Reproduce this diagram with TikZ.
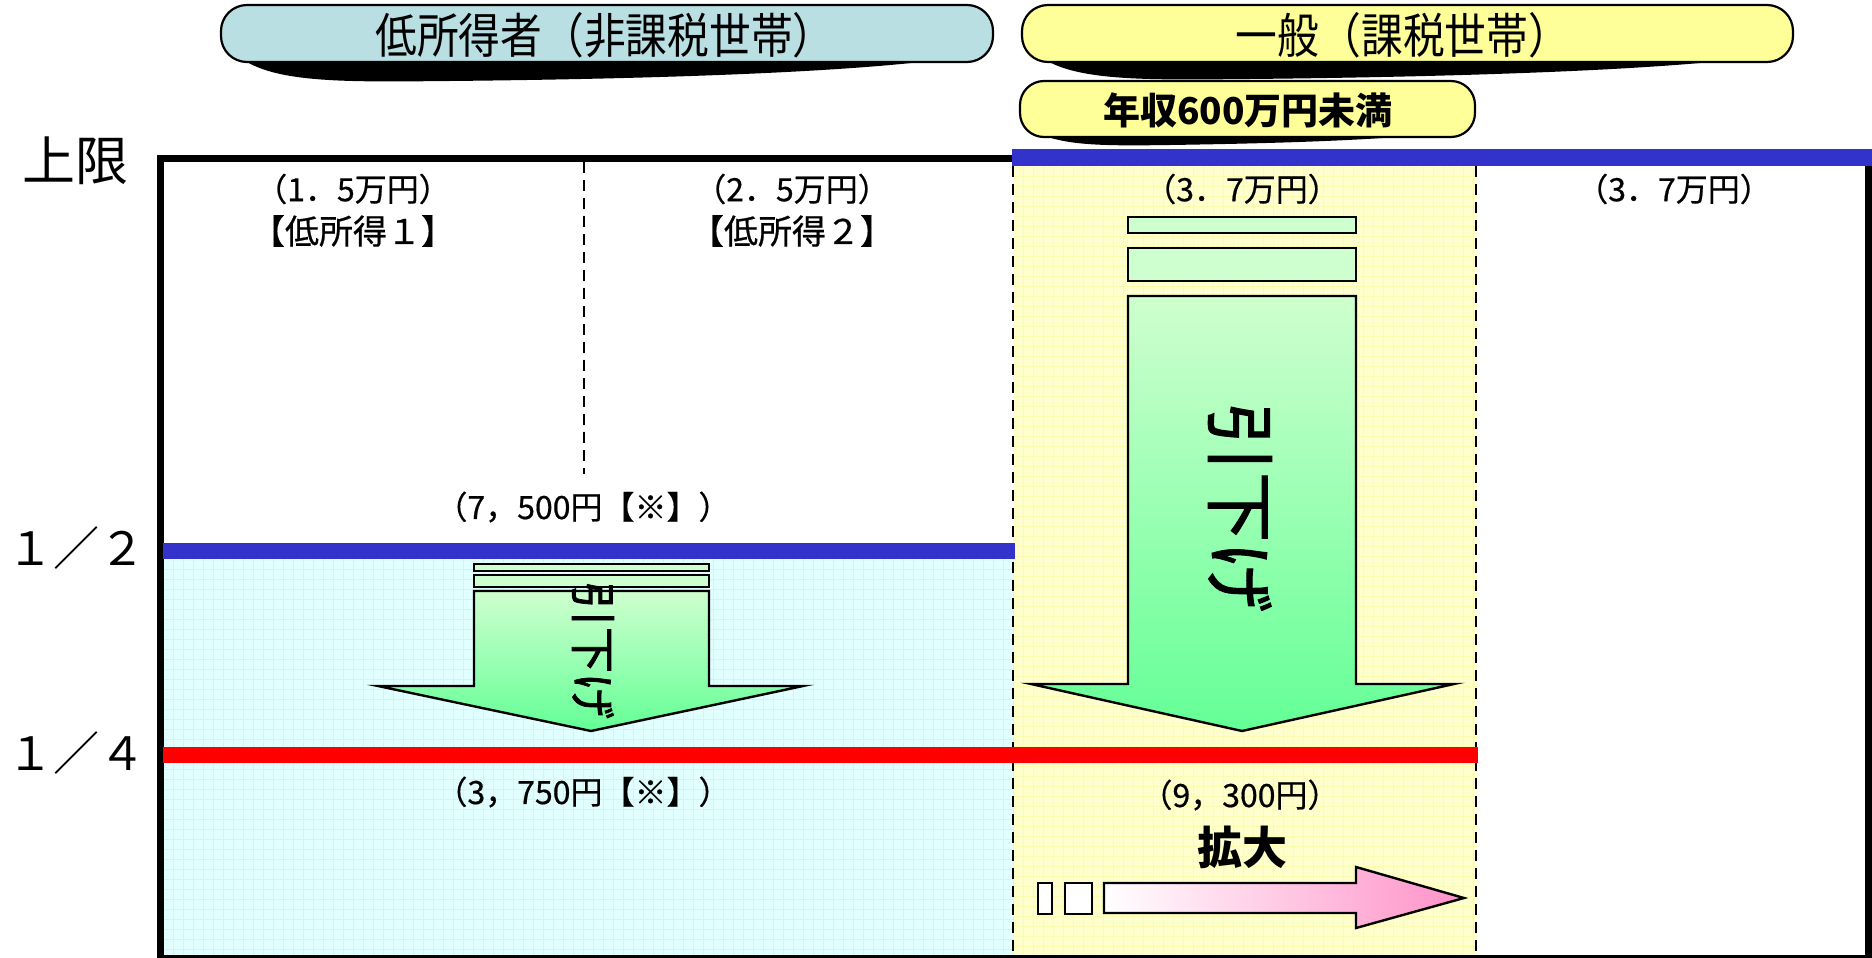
\documentclass[tikz,border=0pt]{standalone}
\usepackage{fontspec}
\setmainfont{Noto Sans CJK JP}
\newfontfamily\semib[FakeBold=1.6]{Noto Sans CJK JP}
\newfontfamily\lblfont[FakeBold=0.6]{Noto Sans CJK JP}
\definecolor{pillblue}{RGB}{185,223,226}
\definecolor{pillyellow}{RGB}{255,255,153}
\definecolor{cyanbg}{RGB}{226,255,255}
\definecolor{cyangrid}{RGB}{205,246,250}
\definecolor{yellowbg}{RGB}{255,255,206}
\definecolor{yellowgrid}{RGB}{252,252,175}
\definecolor{lineblue}{RGB}{51,51,204}
\definecolor{greentop}{RGB}{206,255,206}
\definecolor{greenbot}{RGB}{100,255,150}
\definecolor{pinkend}{RGB}{255,145,200}
\tikzset{
  lbl/.style={font=\lblfont\fontsize{32}{34}\selectfont, inner sep=0pt},
  pilltext/.style={font=\fontsize{48}{52}\selectfont, inner sep=0pt},
  pillbox/.style={draw=black, line width=2.2pt, rounded corners=26pt},
  frameline/.style={line width=7pt, black},
  dashline/.style={line width=2.6pt, black, dash pattern=on 11pt off 7pt},
  arrowbox/.style={draw=black, line width=2.4pt},
  greenfill/.style={top color=greentop, bottom color=greenbot},
}
\begin{document}
\begin{tikzpicture}[x=1pt,y=-1pt]
\useasboundingbox (0,0) rectangle (1872,958);
% backgrounds
\fill[cyanbg] (163,559) rectangle (1013,958);
\fill[yellowbg] (1013,166) rectangle (1477,958);
\foreach \x in {173,183,...,1013} \draw[cyangrid, line width=1pt] (\x,559) -- (\x,958);
\foreach \y in {569,579,...,958} \draw[cyangrid, line width=1pt] (163,\y) -- (1013,\y);
\foreach \x in {1023,1033,...,1477} \draw[yellowgrid, line width=1pt] (\x,166) -- (\x,958);
\foreach \y in {176,186,...,958} \draw[yellowgrid, line width=1pt] (1013,\y) -- (1477,\y);
% dashed dividers
\draw[dashline] (584,162) -- (584,474);
\draw[dashline] (1013,166) -- (1013,958);
\draw[dashline] (1476,166) -- (1476,958);
% frame
\draw[frameline] (160,958.5) -- (160,158) -- (1012,158);
\draw[frameline] (1868,166) -- (1868,958.5);
\draw[frameline] (157,958.5) -- (1872,958.5);
% level lines
\fill[lineblue] (1012,149) rectangle (1872,166);
\fill[lineblue] (163,543) rectangle (1015,559);
\fill[red] (163,747) rectangle (1478,763);
% pills
\fill[black] (232,50) .. controls (262,84) and (340,82) .. (450,81) .. controls (650,79) and (900,72) .. (985,52) -- cycle;
\draw[pillbox, fill=pillblue] (221,5) rectangle (993,62);
\node[pilltext] (t1) at (605,35) {\scalebox{0.87}[1]{低所得者（非課税世帯）}};
\fill[black] (1033,50) .. controls (1063,82) and (1140,80) .. (1250,79) .. controls (1450,77) and (1700,70) .. (1785,52) -- cycle;
\draw[pillbox, fill=pillyellow] (1022,5) rectangle (1793,62);
\node[pilltext] (t2) at (1403,35) {\scalebox{0.87}[1]{一般（課税世帯）}};
\fill[black] (1030,128) .. controls (1055,146) and (1100,146) .. (1170,145) .. controls (1300,143) and (1420,139) .. (1468,128) -- cycle;
\draw[pillbox, fill=pillyellow, rounded corners=24pt] (1020,81) rectangle (1475,137);
\node[font=\fontsize{37}{40}\selectfont\bfseries, inner sep=0pt] (t3) at (1248,110) {年収600万円未満};
% axis labels
\node[font=\fontsize{53}{56}\selectfont, inner sep=0pt] (ul) at (76,161) {上限};
\node[font=\fontsize{46}{48}\selectfont, inner sep=0pt] (half) at (77,548) {１／２};
\node[font=\fontsize{46}{48}\selectfont, inner sep=0pt] (quarter) at (77,753) {１／４};
% column labels
\node[lbl] (a1) at (353,189) {（1．5万円）};
\node[lbl, font=\lblfont\fontsize{34}{36}\selectfont] (a2) at (353,231) {【低所得１】};
\node[lbl] (b1) at (792,189) {（2．5万円）};
\node[lbl, font=\lblfont\fontsize{34}{36}\selectfont] (b2) at (792,231) {【低所得２】};
\node[lbl] (c1) at (1242,189) {（3．7万円）};
\node[lbl] (d1) at (1674,189) {（3．7万円）};
\node[lbl] (e1) at (583,507) {（7，500円【※】）};
\node[lbl] (e2) at (583,792) {（3，750円【※】）};
\node[lbl] (c2) at (1240,795) {（9，300円）};
\node[font=\fontsize{45}{48}\selectfont\bfseries, inner sep=0pt] (kd) at (1242,847) {拡大};
% small down arrow
\draw[arrowbox, fill=greentop] (474,564) rectangle (709,571);
\draw[arrowbox, fill=greentop] (474,575) rectangle (709,587);
\draw[arrowbox, greenfill] (474,591) -- (709,591) -- (709,686) -- (803,686) -- (591,731) -- (378,686) -- (474,686) -- cycle;
\node[font=\semib\fontsize{46}{50}\selectfont, inner sep=0pt, rotate=-90] (s1) at (593,650) {引下げ};
% big down arrow
\draw[arrowbox, fill=greentop] (1128,217) rectangle (1356,233);
\draw[arrowbox, fill=greentop] (1128,248) rectangle (1356,281);
\draw[arrowbox, greenfill] (1128,296) -- (1356,296) -- (1356,684) -- (1454,684) -- (1242,731) -- (1031,684) -- (1128,684) -- cycle;
\node[font=\semib\fontsize{70}{74}\selectfont, inner sep=0pt, rotate=-90] (s2) at (1240,507) {引下げ};
% pink arrow
\draw[arrowbox, fill=white] (1038,883) rectangle (1052,914);
\draw[arrowbox, fill=white] (1065,883) rectangle (1092,914);
\draw[arrowbox, left color=white, right color=pinkend] (1104,883) -- (1356,883) -- (1356,867) -- (1464,898) -- (1356,928) -- (1356,913) -- (1104,913) -- cycle;
\end{tikzpicture}
\end{document}
